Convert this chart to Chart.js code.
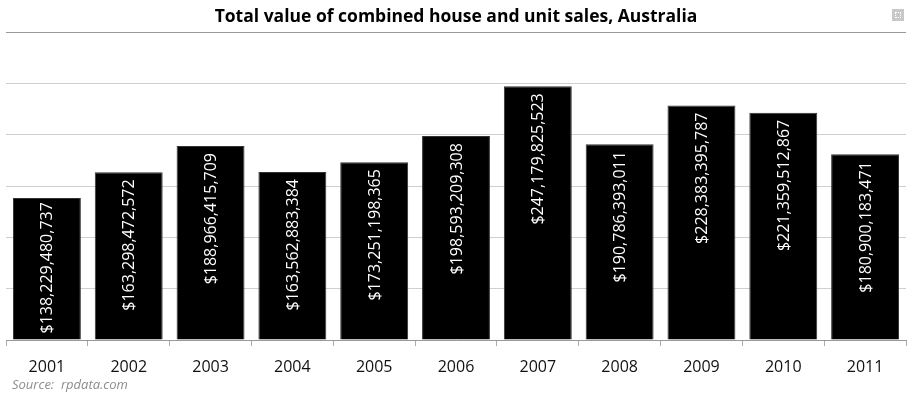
<!DOCTYPE html>
<html>
<head>
<meta charset="utf-8">
<script src="https://cdn.jsdelivr.net/npm/chart.js@4/dist/chart.umd.min.js"></script>
<style>
  html, body { margin: 0; padding: 0; background: #fff; }
  #wrap { position: relative; width: 914px; height: 397px; }
  #icone { position: absolute; left: 892px; top: 9px; width: 12px; height: 12px; background: #c8c8c8; }
  #icone:after { content: ''; position: absolute; left: 3px; top: 3px; width: 4px; height: 4px; border: 1px dotted #fff; }
</style>
</head>
<body>
<div id="wrap">
  <canvas id="grafico" width="914" height="397"></canvas>
  <div id="icone"></div>
</div>
<script>
// Dados do gráfico
const anos = ['2001', '2002', '2003', '2004', '2005', '2006', '2007', '2008', '2009', '2010', '2011'];
const valores = [138229480737, 163298472572, 188966415709, 163562883384, 173251198365,
  198593209308, 247179825523, 190786393011, 228383395787, 221359512867, 180900183471];
const escalaMax = 300000000000;
const passo = 50000000000;
const fonteTexto = 'Source:  rpdata.com';

const fonte = '"Open Sans", sans-serif';

// Rótulos brancos girados dentro das barras
const rotulosBarras = {
  id: 'rotulosBarras',
  afterDatasetsDraw(chart) {
    const ctx = chart.ctx;
    const meta = chart.getDatasetMeta(0);
    ctx.save();
    ctx.font = '16px ' + fonte;
    ctx.fillStyle = '#fff';
    ctx.textBaseline = 'middle';
    meta.data.forEach((barra, i) => {
      const texto = '$' + valores[i].toLocaleString('en-US');
      const largura = ctx.measureText(texto).width;
      let topo = Math.min(barra.y + 7, barra.base - 6 - largura);
      ctx.save();
      ctx.translate(barra.x + 1, topo);
      ctx.rotate(-Math.PI / 2);
      ctx.textAlign = 'right';
      ctx.fillText(texto, 0, 0);
      ctx.restore();
    });
    ctx.restore();
  }
};

// Fonte dos dados no canto inferior esquerdo
const textoFonte = {
  id: 'textoFonte',
  afterDraw(chart) {
    const ctx = chart.ctx;
    ctx.save();
    ctx.font = 'italic 13px ' + fonte;
    ctx.fillStyle = '#8c8c8c';
    ctx.textBaseline = 'middle';
    ctx.fillText(fonteTexto, chart.chartArea.left + 6, chart.height - 12);
    ctx.restore();
  }
};

const ctx = document.getElementById('grafico').getContext('2d');
const chart = new Chart(ctx, {
  type: 'bar',
  data: {
    labels: anos,
    datasets: [{
      data: valores,
      backgroundColor: '#000',
      borderColor: '#333',
      borderWidth: 1,
      categoryPercentage: 1,
      barPercentage: 0.83
    }]
  },
  options: {
    responsive: false,
    animation: false,
    layout: { padding: { left: 6, right: 8, top: 0, bottom: 20 } },
    plugins: {
      legend: { display: false },
      tooltip: { enabled: false },
      title: {
        display: true,
        text: 'Total value of combined house and unit sales, Australia',
        color: '#000',
        font: { family: fonte, size: 17.5, weight: 'bold' },
        padding: { top: 7, bottom: 4 }
      }
    },
    scales: {
      x: {
        afterFit: (eixo) => { eixo.height = 37; },
        grid: { drawOnChartArea: false, drawTicks: true, tickLength: 6, color: '#aaa' },
        border: { color: '#999' },
        ticks: { color: '#111', font: { family: fonte, size: 16 }, padding: 12 }
      },
      y: {
        min: 0,
        max: escalaMax,
        ticks: { display: false, stepSize: passo },
        grid: {
          drawTicks: false,
          color: (c) => c.tick && c.tick.value === escalaMax ? '#999' : '#cfcfcf'
        },
        border: { display: false }
      }
    }
  },
  plugins: [rotulosBarras, textoFonte]
});
</script>
</body>
</html>
